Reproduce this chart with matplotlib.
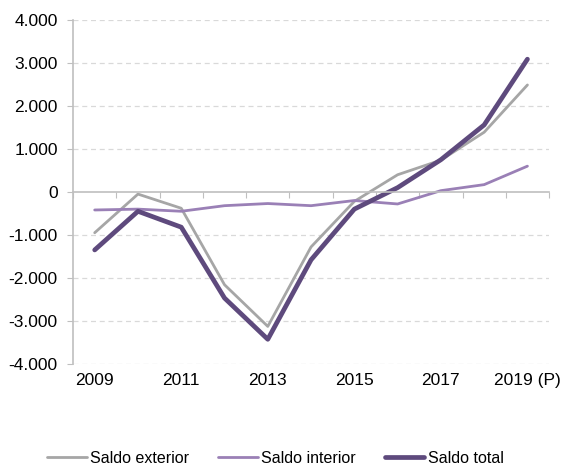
import matplotlib
matplotlib.use('Agg')
import matplotlib.pyplot as plt
import matplotlib.transforms as mtransforms
import numpy as np

plt.rcParams['font.family'] = ['Liberation Sans', 'DejaVu Sans']

# Data
years = ['2009', '2010', '2011', '2012', '2013', '2014', '2015', '2016', '2017', '2018', '2019 (P)']
saldo_exterior = [-950, -50, -380, -2160, -3130, -1280, -220, 400, 740, 1390, 2490]
saldo_interior = [-420, -400, -450, -320, -270, -320, -200, -280, 30, 170, 600]
saldo_total = [-1350, -450, -820, -2470, -3430, -1580, -400, 100, 750, 1560, 3090]
y_ticks = [-4000, -3000, -2000, -1000, 0, 1000, 2000, 3000, 4000]

GRAY = '#A6A6A6'
LIGHT = '#9A80B6'
DARK = '#5E4A7D'
AXIS = '#BFBFBF'


def fmt(v, _=None):
    """Format thousands with a dot separator."""
    return f"{int(v):,}".replace(',', '.')


fig = plt.figure(figsize=(5.62, 4.67), dpi=100)
ax = fig.add_axes([0.130, 0.221, 0.847, 0.736])

x = np.arange(len(years))
ax.plot(x, saldo_exterior, color=GRAY, lw=2.0, label='Saldo exterior', solid_capstyle='round')
ax.plot(x, saldo_interior, color=LIGHT, lw=2.0, label='Saldo interior', solid_capstyle='round')
ax.plot(x, saldo_total, color=DARK, lw=3.4, label='Saldo total', solid_capstyle='round')

ax.set_xlim(-0.5, len(years) - 0.5)
ax.set_ylim(-4000, 4000)

# y axis
ax.set_yticks(y_ticks)
ax.yaxis.set_major_formatter(plt.FuncFormatter(fmt))
ax.tick_params(axis='y', direction='out', length=4, color=AXIS, labelsize=12.5, pad=7)
for t in y_ticks:
    if t != 0:
        ax.axhline(t, color='#D9D9D9', lw=0.9, ls=(0, (4, 3)), zorder=0)

# x axis sits at zero, ticks between categories
ax.spines['bottom'].set_position(('data', 0))
ax.spines['bottom'].set_color(AXIS)
ax.spines['bottom'].set_linewidth(1.2)
ax.spines['left'].set_color(AXIS)
ax.spines['left'].set_linewidth(1.2)
ax.spines['top'].set_visible(False)
ax.spines['right'].set_visible(False)
ax.set_xticks(np.arange(len(years) + 1) - 0.5)
ax.set_xticklabels([])
ax.tick_params(axis='x', direction='out', length=4, color=AXIS)

# category labels at the bottom (every other year)
trans = mtransforms.blended_transform_factory(ax.transData, ax.transAxes)
for i, lab in enumerate(years):
    if i % 2 == 0:
        ax.text(i, -0.027, lab, transform=trans, ha='center', va='top', fontsize=12.5)

fig.legend(loc='center', bbox_to_anchor=(0.49, 0.019), ncol=3, frameon=False,
           fontsize=11.5, handlelength=2.5, handletextpad=0.2, columnspacing=1.8)

plt.savefig('out.png', dpi=100)
plt.close()
